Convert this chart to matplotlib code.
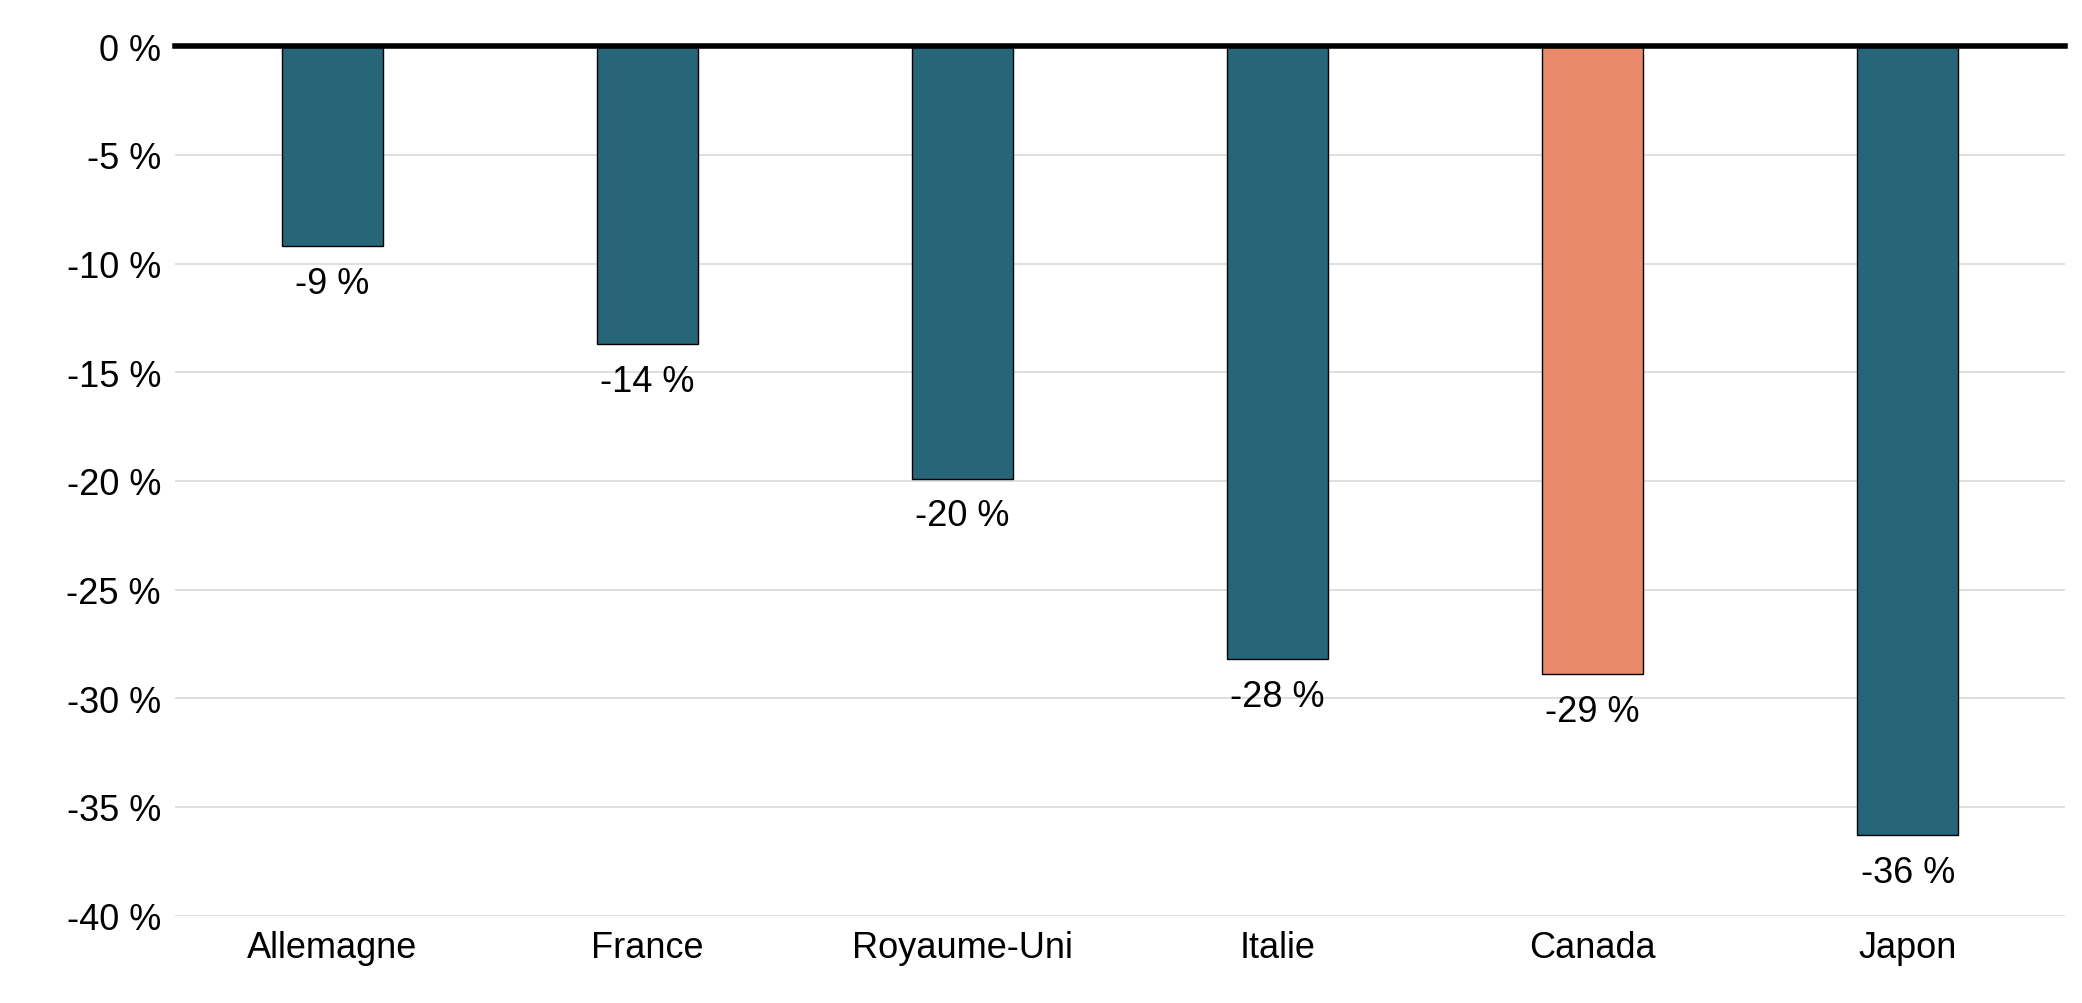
import matplotlib
matplotlib.use("Agg")
import matplotlib.pyplot as plt

categories = ["Allemagne", "France", "Royaume-Uni", "Italie", "Canada", "Japon"]
values = [-9.2, -13.7, -19.9, -28.2, -28.9, -36.3]
labels = ["-9 %", "-14 %", "-20 %", "-28 %", "-29 %", "-36 %"]
colors = ["#276678", "#276678", "#276678", "#276678", "#E8896A", "#276678"]
yticks = list(range(-40, 1, 5))

plt.rcParams['font.family'] = ['Liberation Sans', 'DejaVu Sans']
fig = plt.figure(figsize=(20.82, 10.04), dpi=100)
ax = fig.add_axes([0.084, 0.087, 0.908, 0.866])
x = range(len(categories))
ax.bar(x, values, width=0.32, color=colors, edgecolor="black", linewidth=1, zorder=2)
for xi, v, l in zip(x, values, labels):
    ax.text(xi, v - 0.9, l, ha="center", va="top", fontsize=26)
ax.set_ylim(-40, 0)
ax.set_xlim(-0.5, len(categories) - 0.5)
ax.set_yticks(yticks)
ax.set_yticklabels([f"{t} %" for t in yticks], fontsize=26)
ax.set_xticks(list(x))
ax.set_xticklabels(categories, fontsize=26)
ax.tick_params(length=0, pad=10)
ax.grid(axis="y", color="#d9d9d9", linewidth=1.2, zorder=0)
for s in ax.spines.values():
    s.set_visible(False)
ax.axhline(0, color="black", linewidth=4, zorder=3, clip_on=False)
fig.savefig("out.png", dpi=100)
